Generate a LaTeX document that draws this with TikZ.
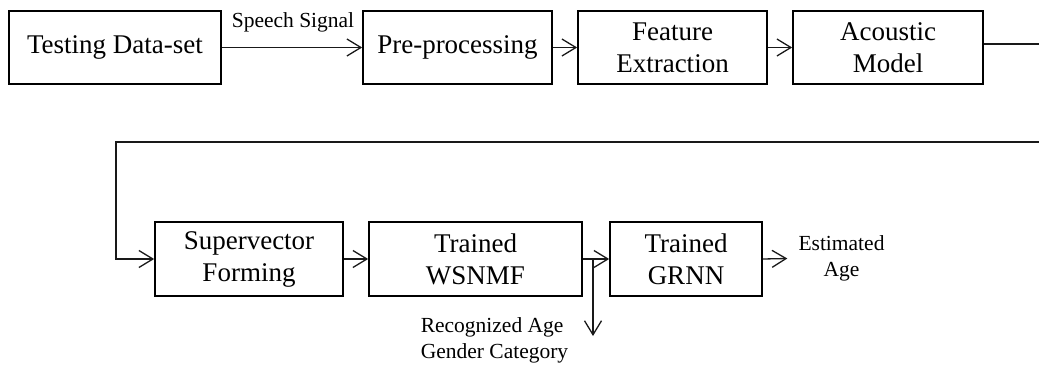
\documentclass[tikz,border=0pt]{standalone}
\usepackage{fontspec}
\setmainfont{Liberation Serif}
\usetikzlibrary{arrows.meta}
\begin{document}
\begin{tikzpicture}[x=1pt,y=-1pt,
  blockbox/.style={draw=black, line width=1.7pt, minimum height=73pt,
    inner sep=0pt, align=center, font=\fontsize{27}{32}\selectfont, text=black},
  lbl/.style={inner sep=0pt, align=center, font=\fontsize{21.5}{26}\selectfont, text=black},
  flow/.style={line width=1.3pt, draw=black!90,
    -{Straight Barb[length=14pt,width=17pt,line width=1.3pt]}},
  wire/.style={line width=1.3pt, draw=black!90}]
\useasboundingbox (0,0) rectangle (1039,369);

% top row
\node[blockbox, minimum width=212pt] (test) at (115,47.5) {Testing Data-set};
\node[blockbox, minimum width=189pt] (pre)  at (457.5,47.5) {Pre-processing};
\node[blockbox, minimum width=189pt] (feat) at (672.5,47.5) {Feature\\Extraction};
\node[blockbox, minimum width=190pt] (acou) at (888,47.5) {Acoustic\\Model};

% bottom row
\node[blockbox, minimum width=188pt, minimum height=74pt] (sup)   at (249,259) {Supervector\\Forming};
\node[blockbox, minimum width=213pt, minimum height=74pt] (wsnmf) at (475.5,259) {Trained\\WSNMF};
\node[blockbox, minimum width=152pt, minimum height=74pt] (grnn)  at (686,259) {Trained\\GRNN};

% labels
\node[lbl] (speech) at (293,22) {Speech Signal};
\node[lbl] (est) at (841.5,258.5) {Estimated\\Age};
\node[lbl, align=left] (recog) at (494.5,340) {Recognized Age\\Gender Category};

% routing points
\coordinate (r1) at (1039,44);
\coordinate (r2) at (1039,142);
\coordinate (l1) at (116,142);
\coordinate (split) at (593,259);
\coordinate (down) at (593,336);

% top-row flow
\draw[flow] (test) -- (pre);
\draw[flow] (pre) -- (feat);
\draw[flow] (feat) -- (acou);
\draw[wire] (acou.east |- r1) -- (r1);

% return line to the second row
\draw[flow] (r2) -- (l1) -- (l1 |- sup.west) -- (sup.west);

% bottom-row flow
\draw[flow] (sup) -- (wsnmf);
\draw[flow] (wsnmf) -- (grnn);
\draw[flow] (split) -- (down);
\draw[flow] (grnn.east) -- ([xshift=-11pt]est.west);
\end{tikzpicture}
\end{document}
